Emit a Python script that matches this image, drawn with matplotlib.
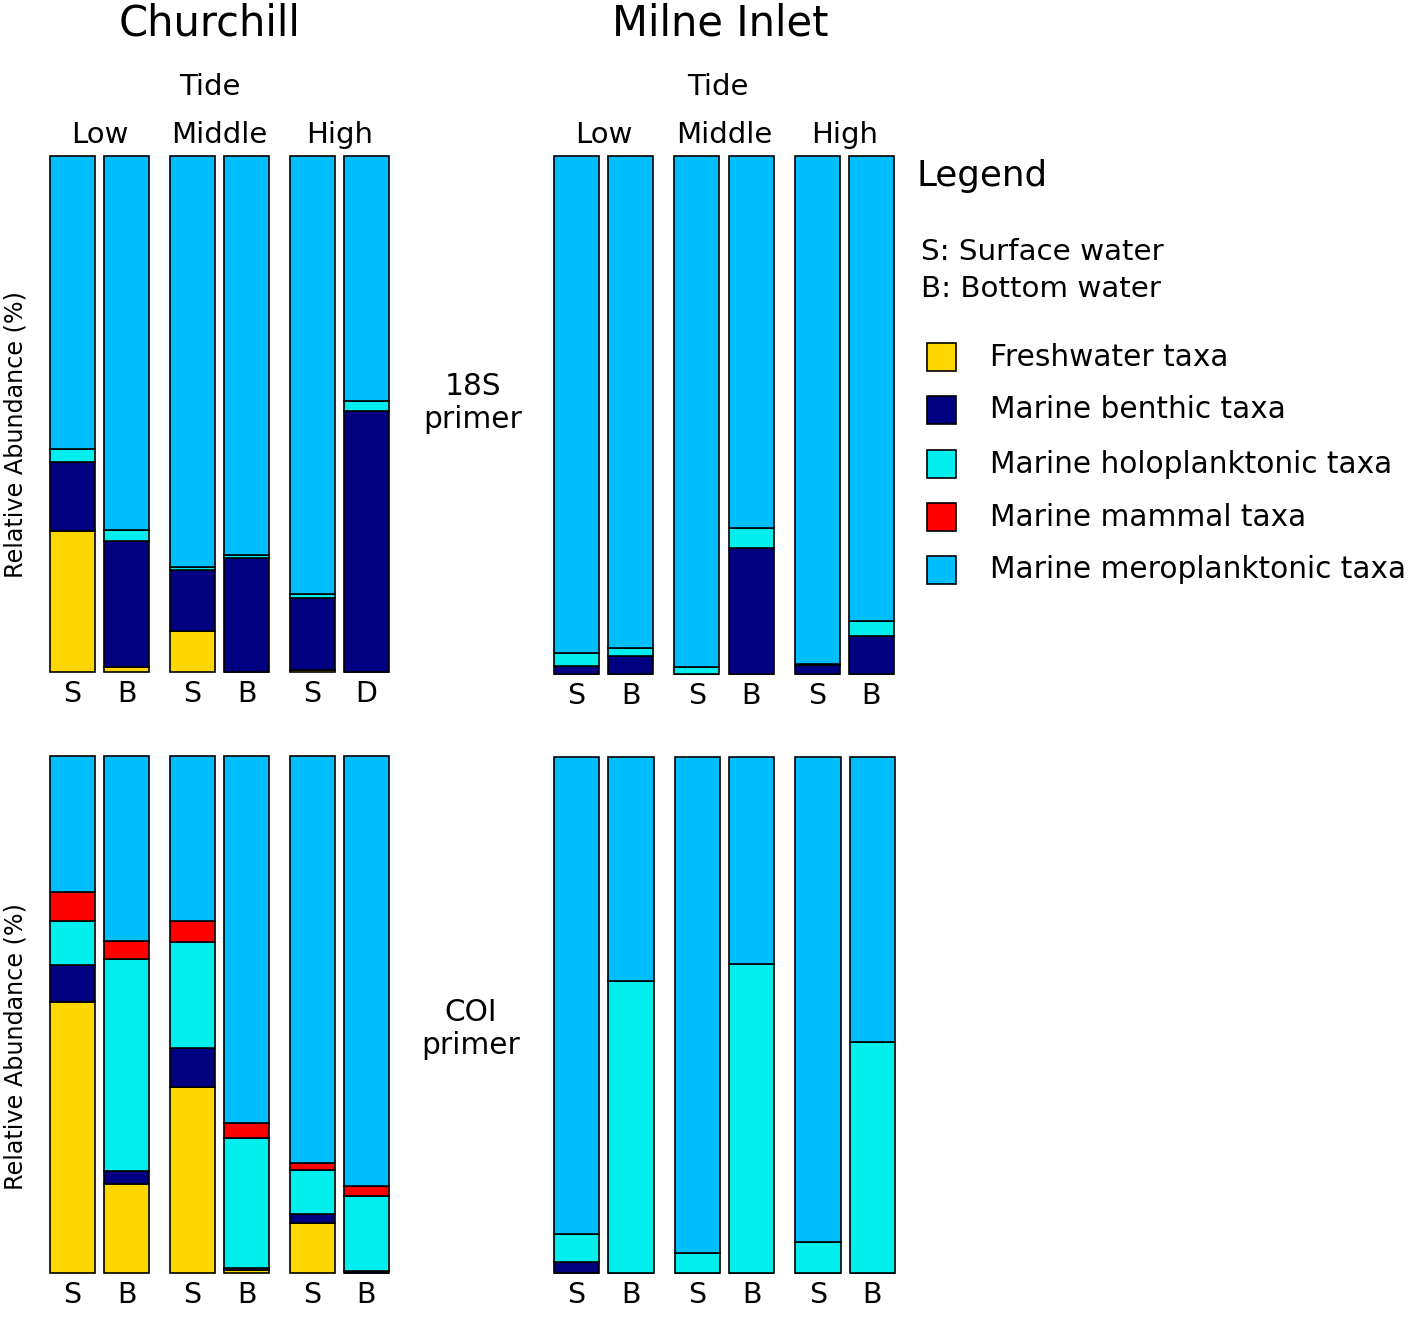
import matplotlib
matplotlib.use("Agg")
import matplotlib.pyplot as plt
from matplotlib.patches import Rectangle

# Taxa categories (stacking order, bottom to top)
categories = ["Freshwater taxa", "Marine benthic taxa", "Marine holoplanktonic taxa",
              "Marine mammal taxa", "Marine meroplanktonic taxa"]
colors = ["#FFD700", "#000080", "#00EEEE", "#FF0000", "#00BFFF"]

tides = ["Low", "Middle", "High"]
ch_18s_labels = ["S", "B", "S", "B", "S", "D"]
sb_labels = ["S", "B", "S", "B", "S", "B"]

# Relative abundance (%)
ch_18s_fresh = [27.3, 1.0, 7.9, 0.0, 0.3, 0.0]
ch_18s_benthic = [13.4, 24.4, 11.8, 22.0, 14.1, 50.6]
ch_18s_holo = [2.5, 2.1, 0.7, 0.6, 0.7, 2.0]
ch_18s_mammal = [0.0, 0.0, 0.0, 0.0, 0.0, 0.0]
ch_18s_mero = [56.8, 72.5, 79.6, 77.4, 84.9, 47.4]

mi_18s_fresh = [0.0, 0.0, 0.0, 0.0, 0.0, 0.0]
mi_18s_benthic = [1.6, 3.5, 0.0, 24.3, 1.8, 7.4]
mi_18s_holo = [2.4, 1.5, 1.3, 3.9, 0.2, 2.8]
mi_18s_mammal = [0.0, 0.0, 0.0, 0.0, 0.0, 0.0]
mi_18s_mero = [96.0, 95.0, 98.7, 71.8, 98.0, 89.8]

ch_coi_fresh = [52.5, 17.2, 36.0, 0.5, 9.7, 0.0]
ch_coi_benthic = [7.1, 2.6, 7.5, 0.4, 1.8, 0.4]
ch_coi_holo = [8.4, 40.9, 20.5, 25.3, 8.5, 14.5]
ch_coi_mammal = [5.6, 3.5, 4.1, 2.9, 1.2, 1.9]
ch_coi_mero = [26.4, 35.8, 31.9, 70.9, 78.8, 83.2]

mi_coi_fresh = [0.0, 0.0, 0.0, 0.0, 0.0, 0.0]
mi_coi_benthic = [2.1, 0.0, 0.0, 0.0, 0.0, 0.0]
mi_coi_holo = [5.4, 56.5, 3.9, 59.9, 6.1, 44.7]
mi_coi_mammal = [0.0, 0.0, 0.0, 0.0, 0.0, 0.0]
mi_coi_mero = [92.5, 43.5, 96.1, 40.1, 93.9, 55.3]

W, H = 1417, 1318
fig = plt.figure(figsize=(W / 100, H / 100), dpi=100)

bar_w = 0.833
xpos = [g * 2.22 + m for g in range(3) for m in range(2)]


def px_axes(x0, y0, x1, y1):
    return fig.add_axes([x0 / W, 1 - y1 / H, (x1 - x0) / W, (y1 - y0) / H])


def ftext(x, y, s, **kw):
    fig.text(x / W, 1 - y / H, s, **kw)


def stacked(ax, series, labels):
    bottom = [0.0] * len(xpos)
    for vals, col in zip(series, colors):
        ax.bar(xpos, vals, bar_w, bottom=bottom, color=col, edgecolor="black",
               linewidth=1.2, clip_on=False)
        bottom = [b + v for b, v in zip(bottom, vals)]
    ax.set_xlim(xpos[0] - bar_w / 2, xpos[-1] + bar_w / 2)
    ax.set_ylim(0, 100)
    for s in ax.spines.values():
        s.set_visible(False)
    ax.set_yticks([])
    ax.set_xticks(xpos)
    ax.set_xticklabels(labels, fontsize=20.5)
    ax.tick_params(axis="x", length=0, pad=6)


ax1 = px_axes(50, 156, 389, 672)
stacked(ax1, [ch_18s_fresh, ch_18s_benthic, ch_18s_holo, ch_18s_mammal, ch_18s_mero],
        ch_18s_labels)
ax2 = px_axes(554, 156, 894, 674)
stacked(ax2, [mi_18s_fresh, mi_18s_benthic, mi_18s_holo, mi_18s_mammal, mi_18s_mero],
        sb_labels)
ax3 = px_axes(50, 756, 389, 1273)
stacked(ax3, [ch_coi_fresh, ch_coi_benthic, ch_coi_holo, ch_coi_mammal, ch_coi_mero],
        sb_labels)
ax4 = px_axes(554, 757, 895, 1273)
stacked(ax4, [mi_coi_fresh, mi_coi_benthic, mi_coi_holo, mi_coi_mammal, mi_coi_mero],
        sb_labels)

# y labels (placed like the original, slightly below the axes centre)
ftext(16, 434, "Relative Abundance (%)", fontsize=17.2, rotation=90,
      ha="center", va="center")
ftext(16, 1046, "Relative Abundance (%)", fontsize=17.2, rotation=90,
      ha="center", va="center")

# Site titles and tide headers
ftext(210, 23, "Churchill", fontsize=30, ha="center", va="center")
ftext(720, 23, "Milne Inlet", fontsize=30, ha="center", va="center")
ftext(210, 87, "Tide", fontsize=21, ha="center", va="center")
ftext(718, 87, "Tide", fontsize=21, ha="center", va="center")
for ax in (ax1, ax2):
    for g, t in enumerate(tides):
        xc = (xpos[2 * g] + xpos[2 * g + 1]) / 2
        ax.text(xc, 1.0 + 7 / 516, t, transform=ax.get_xaxis_transform(),
                fontsize=21, ha="center", va="bottom")

# Primer labels
ftext(473, 403, "18S\nprimer", fontsize=21.3, ha="center", va="center", linespacing=1.2)
ftext(471, 1029, "COI\nprimer", fontsize=21.3, ha="center", va="center", linespacing=1.2)

# Legend
ftext(917, 176, "Legend", fontsize=25.7, ha="left", va="center")
ftext(921, 252, "S: Surface water", fontsize=21.2, ha="left", va="center")
ftext(921, 289, "B: Bottom water", fontsize=21.2, ha="left", va="center")
leg_y = [357, 410, 464, 517, 570]
for yy, lab, col in zip(leg_y, categories, colors):
    fig.patches.append(Rectangle((927 / W, 1 - (yy + 14) / H), 29 / W, 28 / H,
                                 transform=fig.transFigure, facecolor=col,
                                 edgecolor="black", linewidth=1.2))
    ftext(990, yy, lab, fontsize=21.3, ha="left", va="center")

fig.savefig("out.png", dpi=100)
